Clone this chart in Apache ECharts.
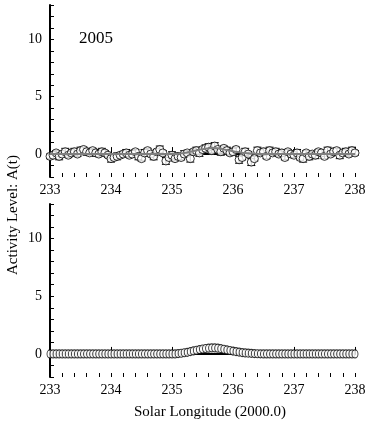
<!DOCTYPE html>
<html>
<head>
<meta charset="utf-8">
<script src="https://cdn.jsdelivr.net/npm/echarts@6/dist/echarts.min.js"></script>
<style>
html, body { margin: 0; padding: 0; background: #fff; }
#main { width: 374px; height: 431px; }
</style>
</head>
<body>
<div id="main"></div>
<script>
// solar longitude grid (deg, J2000.0)
var lon = [
  233.00, 233.05, 233.10, 233.15, 233.20, 233.25, 233.30, 233.35, 233.40, 233.45,
  233.50, 233.55, 233.60, 233.65, 233.70, 233.75, 233.80, 233.85, 233.90, 233.95,
  234.00, 234.05, 234.10, 234.15, 234.20, 234.25, 234.30, 234.35, 234.40, 234.45,
  234.50, 234.55, 234.60, 234.65, 234.70, 234.75, 234.80, 234.85, 234.90, 234.95,
  235.00, 235.05, 235.10, 235.15, 235.20, 235.25, 235.30, 235.35, 235.40, 235.45,
  235.50, 235.55, 235.60, 235.65, 235.70, 235.75, 235.80, 235.85, 235.90, 235.95,
  236.00, 236.05, 236.10, 236.15, 236.20, 236.25, 236.30, 236.35, 236.40, 236.45,
  236.50, 236.55, 236.60, 236.65, 236.70, 236.75, 236.80, 236.85, 236.90, 236.95,
  237.00, 237.05, 237.10, 237.15, 237.20, 237.25, 237.30, 237.35, 237.40, 237.45,
  237.50, 237.55, 237.60, 237.65, 237.70, 237.75, 237.80, 237.85, 237.90, 237.95,
  238.00
];

// observed activity 2005 (top panel)
var observed = [
  -0.2, -0.1, 0.1, -0.2, 0.0, 0.2, -0.1, 0.1, 0.2, 0.0,
  0.3, 0.4, 0.2, 0.1, 0.3, 0.1, 0.0, 0.2, 0.1, -0.1,
  -0.4, -0.3, -0.2, -0.1, 0.0, 0.1, -0.1, 0.0, 0.2, -0.2,
  -0.4, 0.1, 0.3, 0.0, -0.2, 0.2, 0.4, 0.1, -0.6, -0.3,
  -0.1, -0.4, -0.2, -0.3, 0.0, 0.1, -0.4, 0.2, 0.3, 0.1,
  0.4, 0.5, 0.6, 0.3, 0.7, 0.4, 0.2, 0.5, 0.3, 0.1,
  0.2, 0.4, -0.5, -0.3, 0.2, 0.0, -0.7, -0.4, 0.3, 0.1,
  0.2, -0.2, 0.3, 0.1, 0.2, 0.0, 0.1, -0.3, 0.2, 0.0,
  -0.1, 0.1, -0.3, -0.4, 0.1, -0.2, 0.0, -0.1, 0.2, 0.1,
  -0.2, 0.3, 0.0, 0.2, 0.3, -0.1, 0.1, 0.2, 0.0, 0.3,
  0.1
];

// error of each observation
var obsError = [
  0.2, 0.3, 0.2, 0.3, 0.2, 0.3, 0.2, 0.2, 0.3, 0.2,
  0.3, 0.2, 0.3, 0.2, 0.2, 0.3, 0.2, 0.3, 0.2, 0.2,
  0.3, 0.2, 0.3, 0.2, 0.2, 0.3, 0.2, 0.3, 0.2, 0.3,
  0.2, 0.3, 0.2, 0.2, 0.3, 0.2, 0.3, 0.2, 0.3, 0.2,
  0.3, 0.2, 0.3, 0.2, 0.3, 0.2, 0.3, 0.2, 0.3, 0.3,
  0.2, 0.3, 0.3, 0.2, 0.3, 0.2, 0.3, 0.2, 0.3, 0.2,
  0.3, 0.2, 0.3, 0.2, 0.3, 0.2, 0.3, 0.2, 0.3, 0.2,
  0.3, 0.2, 0.3, 0.2, 0.3, 0.2, 0.3, 0.2, 0.2, 0.3,
  0.2, 0.3, 0.2, 0.3, 0.2, 0.3, 0.2, 0.3, 0.2, 0.3,
  0.2, 0.3, 0.2, 0.3, 0.2, 0.3, 0.2, 0.3, 0.2, 0.3,
  0.2
];

// smoothed / model activity (bottom panel, grey line on top panel)
var model = [
  0, 0, 0, 0, 0, 0, 0, 0, 0, 0,
  0, 0, 0, 0, 0, 0, 0, 0, 0, 0,
  0, 0, 0, 0, 0, 0, 0, 0, 0, 0,
  0, 0, 0, 0, 0, 0, 0, 0, 0, 0,
  0, 0, 0.03, 0.06, 0.10, 0.14, 0.20, 0.26, 0.32, 0.38,
  0.43, 0.47, 0.50, 0.52, 0.52, 0.50, 0.46, 0.41, 0.35, 0.30,
  0.25, 0.20, 0.16, 0.12, 0.09, 0.07, 0.05, 0.03, 0.02, 0.01,
  0, 0, 0, 0, 0, 0, 0, 0, 0, 0,
  0, 0, 0, 0, 0, 0, 0, 0, 0, 0,
  0, 0, 0, 0, 0, 0, 0, 0, 0, 0,
  0
];

var yLabels = [0, 5, 10];

var font = 'Liberation Serif';

var pair = function(xs, ys) {
    var out = [];
    for (var i = 0; i < xs.length; i++) {
        out.push([xs[i], ys[i]]);
    }
    return out;
};

var errData = [];
for (var i = 0; i < lon.length; i++) {
    errData.push([lon[i], observed[i] - obsError[i], observed[i] + obsError[i]]);
}

// major x axis: line, labels, long ticks
var makeX = function(idx) {
    return {
        type: 'value', gridIndex: idx, position: 'bottom', min: 233, max: 238, interval: 1,
        axisLine: { lineStyle: { color: '#000', width: 2 } },
        axisTick: { inside: true, length: 7, lineStyle: { color: '#000', width: 1 } },
        splitLine: { show: false },
        axisLabel: { color: '#000', fontFamily: font, fontSize: 14, margin: 6 }
    };
};
// minor x ticks only, every 0.2
var makeXMinor = function(idx) {
    return {
        type: 'value', gridIndex: idx, position: 'bottom', min: 233, max: 238, interval: 0.2,
        axisLine: { show: false },
        axisTick: { show: true, inside: true, length: 4, lineStyle: { color: '#000', width: 1 } },
        splitLine: { show: false },
        axisLabel: { show: false }
    };
};
var makeY = function(idx) {
    return {
        type: 'value', gridIndex: idx, min: -2, max: 13, interval: 1,
        axisLine: { show: true, lineStyle: { color: '#000', width: 2 } },
        axisTick: { show: true, inside: true, length: 4, lineStyle: { color: '#000', width: 1 } },
        splitLine: { show: false },
        axisLabel: {
            color: '#000', fontFamily: font, fontSize: 14, margin: 8,
            formatter: function(v) { return yLabels.indexOf(v) >= 0 ? String(v) : ''; }
        }
    };
};

var option = {
    animation: false,
    backgroundColor: '#fff',
    grid: [
        { left: 50, top: 5, width: 305, height: 172 },
        { left: 50, top: 204, width: 305, height: 173 }
    ],
    xAxis: [makeX(0), makeX(1), makeXMinor(0), makeXMinor(1)],
    yAxis: [makeY(0), makeY(1)],
    graphic: [
        { type: 'text', left: 79, top: 30, style: { text: '2005', font: '17px "Liberation Serif"', fill: '#000' } },
        { type: 'text', x: 6, y: 215, rotation: Math.PI / 2,
          style: { text: 'Activity Level: A(t)', font: '15px "Liberation Serif"', fill: '#000', align: 'center', verticalAlign: 'top' } },
        { type: 'text', x: 210, y: 405,
          style: { text: 'Solar Longitude (2000.0)', font: '15px "Liberation Serif"', fill: '#000', align: 'center', verticalAlign: 'top' } }
    ],
    series: [
        {
            type: 'custom', xAxisIndex: 0, yAxisIndex: 0, data: errData, z: 2,
            renderItem: function(params, api) {
                var lo = api.coord([api.value(0), api.value(1)]);
                var hi = api.coord([api.value(0), api.value(2)]);
                var w = 4;
                var st = { stroke: '#000', lineWidth: 1 };
                return {
                    type: 'group',
                    children: [
                        { type: 'line', shape: { x1: lo[0], y1: lo[1], x2: hi[0], y2: hi[1] }, style: st },
                        { type: 'line', shape: { x1: lo[0] - w, y1: lo[1], x2: lo[0] + w, y2: lo[1] }, style: st },
                        { type: 'line', shape: { x1: hi[0] - w, y1: hi[1], x2: hi[0] + w, y2: hi[1] }, style: st }
                    ]
                };
            }
        },
        {
            type: 'scatter', xAxisIndex: 0, yAxisIndex: 0, z: 3,
            symbol: 'circle', symbolSize: 8,
            itemStyle: { color: '#fff', borderColor: '#000', borderWidth: 1 },
            data: pair(lon, observed)
        },
        {
            type: 'line', xAxisIndex: 0, yAxisIndex: 0, z: 4,
            symbol: 'none', smooth: true,
            lineStyle: { color: '#808080', width: 2 },
            data: pair(lon, model)
        },
        {
            type: 'scatter', xAxisIndex: 1, yAxisIndex: 1,
            symbol: 'circle', symbolSize: [6, 8],
            itemStyle: { color: '#fff', borderColor: '#000', borderWidth: 1 },
            data: pair(lon, model)
        }
    ]
};

var chart = echarts.init(document.getElementById('main'));
chart.setOption(option);
</script>
</body>
</html>
